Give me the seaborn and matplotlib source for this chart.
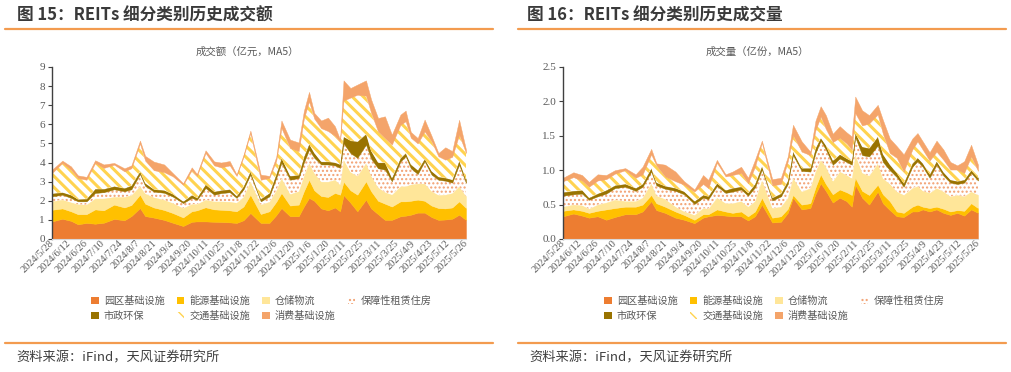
import numpy as np
import pandas as pd
import matplotlib
matplotlib.use("Agg")
import matplotlib.pyplot as plt
import matplotlib.transforms as mtransforms
from matplotlib.patches import Patch
from matplotlib.lines import Line2D
import seaborn as sns

sns.set_theme(style="white")
plt.rcParams['font.family'] = ['Noto Sans CJK SC', 'DejaVu Sans']
plt.rcParams['hatch.linewidth'] = 1.0

# ---------------- data ----------------
categories = ["园区基础设施", "能源基础设施", "仓储物流", "保障性租赁住房",
              "市政环保", "交通基础设施", "消费基础设施"]

tick_labels = ["2024/5/28", "2024/6/12", "2024/6/26", "2024/7/10", "2024/7/24",
               "2024/8/7", "2024/8/21", "2024/9/4", "2024/9/20", "2024/10/11",
               "2024/10/25", "2024/11/8", "2024/11/22", "2024/12/6", "2024/12/20",
               "2025/1/6", "2025/1/20", "2025/2/11", "2025/2/25", "2025/3/11",
               "2025/3/25", "2025/4/9", "2025/4/23", "2025/5/12", "2025/5/26"]

# trading-day index of each sampled point
day = [0, 6, 11, 15, 20, 25, 30, 36, 42, 46, 51, 54, 59, 65, 70, 76, 81, 84, 89, 94,
       98, 103, 107, 111, 115, 121, 126, 130, 133, 138, 143, 146, 149, 152, 156, 160,
       164, 167, 169, 173, 177, 182, 185, 189, 193, 197, 202, 205, 208, 212, 216, 220,
       224, 228, 232, 236, 240]

# 成交额 (亿元, MA5)
amt_park = [0.92, 1.06, 0.95, 0.77, 0.84, 0.80, 0.85, 1.05, 0.98, 1.20, 1.62, 1.20, 1.12, 1.00, 0.85,
            0.68, 0.90, 0.92, 0.92, 0.90, 0.89, 0.87, 0.84, 0.98, 1.36, 0.84, 0.84, 1.25, 1.62, 1.19,
            1.19, 1.70, 2.15, 2.00, 1.60, 1.50, 1.65, 1.45, 2.30, 1.90, 1.45, 2.06, 1.60, 1.30, 1.00,
            1.00, 1.19, 1.22, 1.27, 1.38, 1.38, 1.15, 1.00, 1.02, 1.06, 1.27, 1.00]
amt_energy = [0.61, 0.54, 0.50, 0.53, 0.46, 0.75, 0.65, 0.75, 0.67, 0.58, 0.70, 0.65, 0.53, 0.52, 0.51,
              0.45, 0.55, 0.58, 0.74, 0.65, 0.64, 0.63, 0.61, 0.72, 0.96, 0.47, 0.61, 0.70, 0.79, 0.56,
              0.61, 0.80, 0.95, 0.55, 0.65, 0.70, 0.76, 0.87, 0.70, 0.65, 0.87, 0.96, 0.90, 0.70, 0.85,
              0.70, 0.78, 0.75, 0.73, 0.68, 0.62, 0.60, 0.62, 0.58, 0.59, 0.70, 0.62]
amt_storage = [0.44, 0.46, 0.47, 0.52, 0.50, 0.57, 0.62, 0.40, 0.55, 0.52, 0.44, 0.53, 0.53, 0.53, 0.52,
               0.49, 0.38, 0.33, 0.39, 0.42, 0.44, 0.45, 0.45, 0.50, 0.70, 0.49, 0.50, 0.60, 0.78, 0.60,
               0.70, 0.80, 0.88, 0.90, 0.75, 0.80, 0.69, 0.52, 1.15, 0.95, 0.98, 0.96, 0.80, 0.70, 0.60,
               0.62, 0.79, 0.79, 0.85, 0.84, 0.90, 0.75, 0.68, 0.72, 0.75, 0.79, 0.61]
amt_housing = [0.26, 0.26, 0.23, 0.15, 0.17, 0.29, 0.33, 0.40, 0.30, 0.30, 0.64, 0.40, 0.30, 0.37, 0.34,
               0.26, 0.32, 0.22, 0.62, 0.35, 0.43, 0.50, 0.25, 0.40, 0.35, 0.17, 0.28, 0.65, 0.79, 0.75,
               0.69, 0.70, 0.69, 0.80, 0.90, 0.90, 0.75, 0.88, 0.85, 1.00, 0.95, 0.96, 0.90, 1.00, 1.18,
               0.70, 1.30, 1.57, 0.85, 0.50, 1.16, 0.87, 0.80, 0.73, 0.55, 1.13, 0.70]
amt_muni = [0.15, 0.12, 0.15, 0.11, 0.13, 0.21, 0.17, 0.16, 0.16, 0.20, 0.14, 0.14, 0.12, 0.13, 0.13,
            0.09, 0.15, 0.10, 0.18, 0.16, 0.15, 0.15, 0.10, 0.15, 0.17, 0.13, 0.17, 0.20, 0.26, 0.20,
            0.16, 0.30, 0.30, 0.25, 0.15, 0.15, 0.15, 0.18, 0.35, 0.65, 0.85, 0.56, 0.40, 0.30, 0.37,
            0.17, 0.18, 0.17, 0.20, 0.20, 0.14, 0.18, 0.15, 0.15, 0.15, 0.21, 0.17]
amt_transport = [1.07, 1.54, 1.33, 1.11, 1.00, 1.36, 1.10, 1.13, 0.88, 0.90, 1.46, 1.18, 1.00, 0.95, 0.93,
                 0.87, 1.30, 1.15, 1.65, 1.37, 1.20, 1.25, 1.05, 1.55, 2.01, 1.00, 0.80, 0.70, 1.57, 1.46,
                 1.25, 2.00, 2.23, 1.80, 1.75, 1.60, 1.40, 1.20, 1.90, 2.25, 2.45, 2.00, 2.00, 1.63, 1.28,
                 1.75, 1.74, 1.66, 1.40, 1.40, 1.43, 1.56, 1.08, 0.95, 1.20, 1.36, 1.40]
amt_consume = [0.18, 0.12, 0.17, 0.14, 0.15, 0.14, 0.18, 0.09, 0.16, 0.15, 0.15, 0.25, 0.45, 0.40, 0.17,
               0.08, 0.15, 0.10, 0.14, 0.21, 0.25, 0.23, 0.07, 0.10, 0.12, 0.27, 0.10, 0.20, 0.39, 0.44,
               0.45, 0.40, 0.50, 0.30, 0.40, 0.70, 0.50, 0.10, 1.05, 0.50, 0.53, 0.80, 0.70, 0.70, 1.14,
               0.52, 0.53, 0.56, 0.30, 0.28, 0.62, 0.29, 0.17, 0.65, 0.30, 0.78, 0.17]

# 成交量 (亿份, MA5)
vol_park = [0.33, 0.37, 0.34, 0.31, 0.33, 0.28, 0.32, 0.36, 0.36, 0.40, 0.55, 0.42, 0.38, 0.31, 0.28,
            0.23, 0.31, 0.33, 0.35, 0.34, 0.33, 0.33, 0.27, 0.33, 0.50, 0.24, 0.25, 0.38, 0.60, 0.43,
            0.45, 0.65, 0.81, 0.70, 0.53, 0.60, 0.55, 0.47, 0.79, 0.60, 0.50, 0.69, 0.52, 0.42, 0.33,
            0.32, 0.40, 0.40, 0.43, 0.40, 0.43, 0.38, 0.35, 0.38, 0.34, 0.43, 0.38]
vol_energy = [0.08, 0.06, 0.07, 0.07, 0.08, 0.15, 0.13, 0.11, 0.11, 0.10, 0.09, 0.10, 0.09, 0.09, 0.07,
              0.05, 0.05, 0.03, 0.08, 0.06, 0.05, 0.07, 0.06, 0.07, 0.10, 0.07, 0.08, 0.06, 0.04, 0.07,
              0.07, 0.10, 0.13, 0.10, 0.12, 0.12, 0.13, 0.17, 0.10, 0.10, 0.14, 0.10, 0.13, 0.13, 0.07,
              0.06, 0.07, 0.10, 0.04, 0.05, 0.04, 0.06, 0.05, 0.04, 0.07, 0.09, 0.07]
vol_storage = [0.06, 0.07, 0.08, 0.06, 0.09, 0.10, 0.12, 0.08, 0.08, 0.10, 0.17, 0.11, 0.11, 0.07, 0.05,
               0.07, 0.09, 0.08, 0.17, 0.12, 0.14, 0.15, 0.14, 0.15, 0.26, 0.14, 0.14, 0.16, 0.25, 0.19,
               0.22, 0.23, 0.21, 0.25, 0.19, 0.26, 0.25, 0.24, 0.34, 0.26, 0.28, 0.31, 0.23, 0.25, 0.29,
               0.26, 0.27, 0.27, 0.23, 0.22, 0.27, 0.25, 0.22, 0.22, 0.21, 0.17, 0.19]
vol_housing = [0.16, 0.15, 0.17, 0.13, 0.12, 0.13, 0.17, 0.21, 0.15, 0.16, 0.17, 0.15, 0.15, 0.23, 0.25,
               0.16, 0.15, 0.14, 0.17, 0.15, 0.17, 0.17, 0.16, 0.20, 0.15, 0.11, 0.15, 0.20, 0.33, 0.30,
               0.24, 0.27, 0.28, 0.25, 0.24, 0.19, 0.19, 0.20, 0.25, 0.26, 0.28, 0.26, 0.24, 0.20, 0.21,
               0.12, 0.31, 0.36, 0.35, 0.22, 0.34, 0.23, 0.20, 0.16, 0.20, 0.27, 0.21]
vol_muni = [0.05, 0.05, 0.05, 0.03, 0.04, 0.05, 0.04, 0.04, 0.04, 0.04, 0.05, 0.04, 0.04, 0.04, 0.04,
            0.04, 0.04, 0.04, 0.04, 0.04, 0.05, 0.04, 0.04, 0.05, 0.05, 0.04, 0.04, 0.05, 0.05, 0.04,
            0.05, 0.07, 0.04, 0.06, 0.06, 0.06, 0.05, 0.05, 0.06, 0.12, 0.12, 0.13, 0.11, 0.08, 0.06,
            0.05, 0.05, 0.05, 0.05, 0.05, 0.05, 0.05, 0.04, 0.04, 0.04, 0.04, 0.04]
vol_transport = [0.16, 0.20, 0.14, 0.16, 0.19, 0.16, 0.17, 0.20, 0.15, 0.14, 0.20, 0.25, 0.14, 0.10, 0.10,
                 0.14, 0.16, 0.12, 0.30, 0.20, 0.19, 0.20, 0.14, 0.25, 0.34, 0.18, 0.14, 0.28, 0.24, 0.24,
                 0.19, 0.26, 0.31, 0.24, 0.27, 0.24, 0.22, 0.17, 0.29, 0.31, 0.36, 0.32, 0.30, 0.17, 0.22,
                 0.17, 0.20, 0.24, 0.20, 0.20, 0.14, 0.18, 0.15, 0.17, 0.10, 0.20, 0.10]
vol_consume = [0.05, 0.07, 0.08, 0.07, 0.09, 0.06, 0.05, 0.03, 0.05, 0.11, 0.08, 0.03, 0.17, 0.14, 0.05,
               0.03, 0.13, 0.12, 0.04, 0.03, 0.05, 0.09, 0.08, 0.10, 0.03, 0.09, 0.09, 0.07, 0.15, 0.15,
               0.05, 0.14, 0.15, 0.20, 0.12, 0.17, 0.16, 0.19, 0.24, 0.22, 0.12, 0.14, 0.20, 0.21, 0.17,
               0.25, 0.16, 0.12, 0.12, 0.12, 0.16, 0.15, 0.11, 0.06, 0.17, 0.17, 0.09]

amt_series = [amt_park, amt_energy, amt_storage, amt_housing, amt_muni, amt_transport, amt_consume]
vol_series = [vol_park, vol_energy, vol_storage, vol_housing, vol_muni, vol_transport, vol_consume]

# ---------------- styles ----------------
fills = ['#ED7D31', '#FFC000', '#FFE699', '#FFFFFF', '#997300', '#FFFFFF', '#F4A46A']
hatches = [None, None, None, '....', None, '\\\\\\', None]
hatch_cols = [None, None, None, '#F2A070', None, '#FFD34F', None]
hatch_lws = [None, None, None, 1.0, None, 2.2, None]

W, H = 1011, 372
fig = plt.figure(figsize=(W / 100, H / 100), dpi=100)
fig.patch.set_facecolor('white')


def fx(px):
    return px / W


def fy(py):
    return 1 - py / H


ORANGE = '#F39B4F'
TXT = '#595959'


def style_poly(c, i):
    if hatches[i]:
        c.set_hatch(hatches[i])
        c.set_edgecolor(hatch_cols[i])
        c.set_linewidth(0)
        if hasattr(c, 'set_hatchcolor'):
            try:
                c.set_hatchcolor(hatch_cols[i])
            except Exception:
                pass
        if hasattr(c, 'set_hatch_linewidth'):
            c.set_hatch_linewidth(hatch_lws[i])
    else:
        c.set_edgecolor(fills[i])
        c.set_linewidth(0.3)


def panel(x0, x1, series, ymax, ystep, yfmt, title, title_x, subtitle, sub_x, legend_x, line_x0, line_x1):
    ax = fig.add_axes([fx(x0), fy(239), fx(x1 - x0), (239 - 67) / H])
    colls = ax.stackplot(day, *series, colors=fills, linewidth=0)
    for i, c in enumerate(colls):
        style_poly(c, i)
    ax.set_xlim(0, 240)
    ax.set_ylim(0, ymax)
    yt = np.arange(0, ymax + 1e-9, ystep)
    ax.set_yticks(yt)
    ax.set_yticklabels([yfmt.format(v) for v in yt], fontsize=8,
                       family=['Liberation Serif'], color=TXT)
    ax.set_xticks(list(range(0, 241, 10)))
    ax.set_xticklabels(tick_labels, rotation=45, ha='right', va='center',
                       rotation_mode='anchor', fontsize=7.5,
                       family=['Liberation Serif'], color=TXT)
    off = mtransforms.ScaledTranslation(5 / 100, -4 / 100, fig.dpi_scale_trans)
    for lab in ax.get_xticklabels():
        lab.set_transform(lab.get_transform() + off)
    ax.tick_params(axis='y', left=True, length=3, width=0.8, color='#404040', pad=2)
    ax.tick_params(axis='x', bottom=False, length=0, pad=2)
    for s in ['top', 'right']:
        ax.spines[s].set_visible(False)
    ax.spines['left'].set_color('#404040')
    ax.spines['left'].set_linewidth(1.0)
    ax.spines['bottom'].set_color('#D9D9D9')
    ax.spines['bottom'].set_linewidth(0.8)
    ax.grid(False)
    ax.set_facecolor('white')

    # titles and rules
    fig.text(fx(title_x), fy(15), title, fontsize=12, fontweight='bold',
             color='#3A3A3A', ha='left', va='center')
    fig.add_artist(Line2D([fx(line_x0), fx(line_x1)], [fy(29), fy(29)],
                          color=ORANGE, lw=1.6, transform=fig.transFigure))
    fig.text(fx(sub_x), fy(52), subtitle, fontsize=7.5, color=TXT,
             ha='center', va='center')
    fig.add_artist(Line2D([fx(line_x0), fx(line_x1)], [fy(343), fy(343)],
                          color=ORANGE, lw=1.6, transform=fig.transFigure))
    fig.text(fx(line_x0 + 11), fy(358), "资料来源：iFind，天风证券研究所", fontsize=9.5,
             color='#404040', ha='left', va='center')

    # legend (row-major order)
    handles = []
    for i in range(7):
        if hatches[i]:
            handles.append(Patch(facecolor=fills[i], edgecolor=hatch_cols[i],
                                 hatch=hatches[i], linewidth=0))
        else:
            handles.append(Patch(facecolor=fills[i], edgecolor=fills[i], linewidth=0))
    order = [0, 4, 1, 5, 2, 6, 3]
    leg = fig.legend([handles[k] for k in order], [categories[k] for k in order],
                     ncol=4, loc='center left', bbox_to_anchor=(fx(legend_x), fy(308.5)),
                     frameon=False, fontsize=7.3, handlelength=0.75, handleheight=0.75,
                     handletextpad=0.5, columnspacing=1.2, labelspacing=0.45,
                     borderpad=0, borderaxespad=0)
    for t in leg.get_texts():
        t.set_color(TXT)
    return ax


panel(52, 466, amt_series, 9, 1, "{:.0f}", "图 15：REITs 细分类别历史成交额", 17,
      "成交额（亿元，MA5）", 247, 91, 5, 493)
panel(563, 978, vol_series, 2.5, 0.5, "{:.1f}", "图 16：REITs 细分类别历史成交量", 527,
      "成交量（亿份，MA5）", 757, 604, 518, 1006)

fig.savefig("out.png", dpi=100, facecolor='white')
